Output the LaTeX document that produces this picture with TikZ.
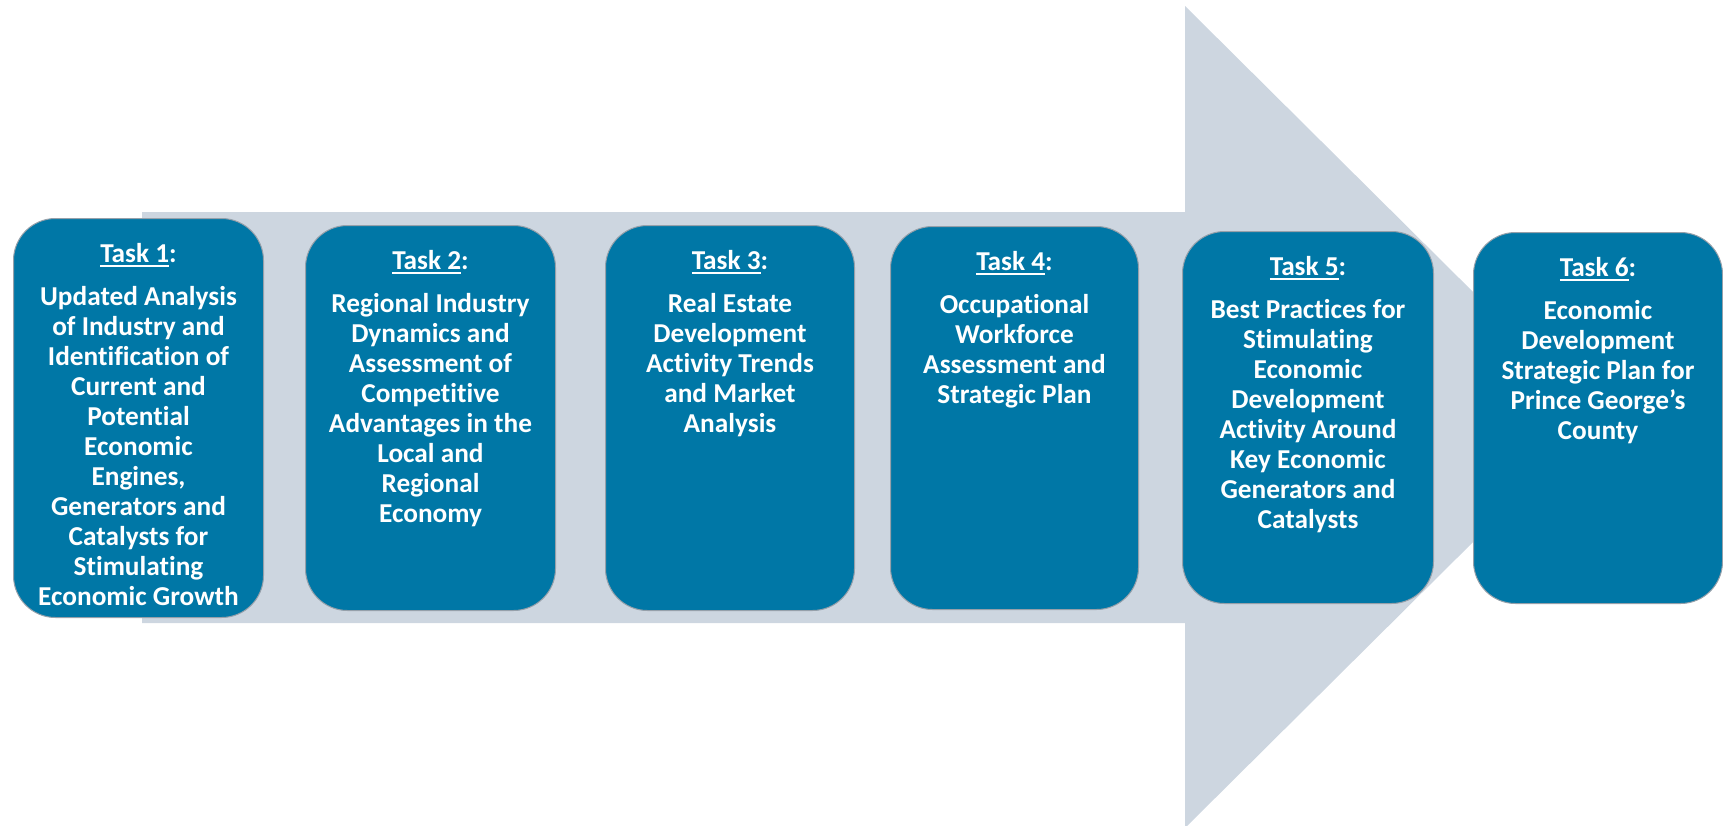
\documentclass[tikz,border=0pt]{standalone}
\usepackage{fontspec}
\setmainfont{Carlito}[Ligatures=NoCommon]
\definecolor{boxblue}{RGB}{0,119,166}
\definecolor{arrowgray}{RGB}{205,214,224}
\definecolor{edgegray}{RGB}{150,160,170}
\tikzset{
  x=1pt, y=-1pt,
  taskbox/.style={draw=edgegray, line width=1pt, fill=boxblue, rounded corners=42pt,
    anchor=north west, inner sep=0pt},
  tasktext/.style={anchor=north, inner sep=0pt, align=center, text=white,
    font=\fontsize{27.3}{30}\selectfont\bfseries},
}
\newcommand\myunder[1]{\setbox0\hbox{#1}\rlap{\rule[-4.5pt]{\wd0}{1.6pt}}\box0}
\newcommand\tasktitle[1]{\strut\myunder{Task #1}:\\[13pt]}
\begin{document}
\begin{tikzpicture}
\useasboundingbox (0,0) rectangle (1723,825);
% big arrow
\fill[arrowgray] (142,212) -- (1185,212) -- (1185,6) -- (1599,417) -- (1185,828) -- (1185,623) -- (142,623) -- cycle;
% boxes
\node[taskbox, minimum width=250pt, minimum height=399pt] (b1) at (13,218) {};
\node[taskbox, minimum width=250pt, minimum height=385pt] (b2) at (305,225) {};
\node[taskbox, minimum width=249pt, minimum height=385pt] (b3) at (605,225) {};
\node[taskbox, minimum width=248pt, minimum height=383pt] (b4) at (890,226) {};
\node[taskbox, minimum width=251pt, minimum height=372pt] (b5) at (1182,231) {};
\node[taskbox, minimum width=249pt, minimum height=371pt] (b6) at (1473,232) {};
% texts
\node[tasktext] (t1) at ([yshift=-23pt]b1.north) {\tasktitle{1}Updated Analysis\\of Industry and\\Identification of\\Current and\\Potential\\Economic\\Engines,\\Generators and\\Catalysts for\\Stimulating\\Economic Growth};
\node[tasktext] (t2) at ([yshift=-23pt]b2.north) {\tasktitle{2}Regional Industry\\Dynamics and\\Assessment of\\Competitive\\Advantages in the\\Local and\\Regional\\Economy};
\node[tasktext] (t3) at ([yshift=-23pt]b3.north) {\tasktitle{3}Real Estate\\Development\\Activity Trends\\and Market\\Analysis};
\node[tasktext] (t4) at ([yshift=-23pt]b4.north) {\tasktitle{4}Occupational\\Workforce\\Assessment and\\Strategic Plan};
\node[tasktext] (t5) at ([yshift=-23pt]b5.north) {\tasktitle{5}Best Practices for\\Stimulating\\Economic\\Development\\Activity Around\\Key Economic\\Generators and\\Catalysts};
\node[tasktext] (t6) at ([yshift=-23pt]b6.north) {\tasktitle{6}Economic\\Development\\Strategic Plan for\\Prince George’s\\County};
\end{tikzpicture}
\end{document}
